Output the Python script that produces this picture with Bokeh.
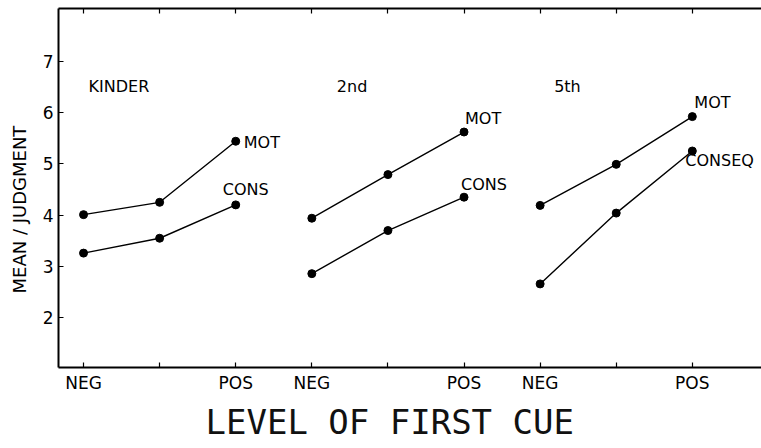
from bokeh.plotting import figure
from bokeh.models import FixedTicker, LinearAxis, Title, Range1d
from bokeh.core.properties import value
from bokeh.embed import file_html
from bokeh.resources import INLINE

# ---- data ----
groups = ["KINDER", "2nd", "5th"]
levels = ["NEG", "", "POS"]
mot = [[4.01, 4.25, 5.44], [3.94, 4.79, 5.62], [4.19, 4.99, 5.92]]
cons = [[3.26, 3.55, 4.20], [2.86, 3.70, 4.35], [2.66, 4.04, 5.25]]
mot_name = "MOT"
cons_names = ["CONS", "CONS", "CONSEQ"]
y_ticks = [2, 3, 4, 5, 6, 7]
x_title = "LEVEL OF FIRST CUE"
y_title = "MEAN / JUDGMENT"

FONT = "DejaVu Sans"
n = len(levels)

p = figure(width=761, height=448, output_backend="svg", toolbar_location=None,
           x_range=Range1d(-0.329, 8.909), y_range=Range1d(1.031, 8.027),
           min_border_left=58, min_border_right=0, min_border_top=8,
           min_border_bottom=81)
p.grid.visible = False
p.outline_line_color = None
p.background_fill_color = "white"
p.border_fill_color = "white"

all_x = [g * n + i for g in range(len(groups)) for i in range(n)]
labeled_x = [g * n + i for g in range(len(groups)) for i in range(n) if levels[i]]
unlabeled_x = [g * n + i for g in range(len(groups)) for i in range(n) if not levels[i]]
overrides = {g * n + i: levels[i] for g in range(len(groups)) for i in range(n) if levels[i]}

xa = p.xaxis[0]
xa.ticker = FixedTicker(ticks=labeled_x, minor_ticks=unlabeled_x)
xa.major_label_overrides = overrides
ya = p.yaxis[0]
ya.ticker = FixedTicker(ticks=y_ticks)
ya.minor_tick_line_color = None

for ax in (xa, ya):
    ax.axis_line_width = 2
    ax.axis_line_color = "black"
    ax.major_tick_in = 5
    ax.major_tick_out = 0
    ax.major_tick_line_width = 1.2
    ax.major_label_text_font = FONT
    ax.major_label_text_color = "black"
xa.minor_tick_in = 5
xa.minor_tick_out = 0
xa.minor_tick_line_width = 1.2
xa.minor_tick_line_color = "black"
xa.major_label_text_font_size = "17px"
xa.major_label_standoff = 5
ya.major_label_text_font_size = "17px"
ya.major_label_standoff = 5

top = LinearAxis(ticker=FixedTicker(ticks=[], minor_ticks=all_x), axis_line_width=2,
                 major_tick_in=0, major_tick_out=0,
                 minor_tick_in=5, minor_tick_out=0, minor_tick_line_width=1.2,
                 minor_tick_line_color="black", major_label_standoff=0)
p.add_layout(top, "above")

for g in range(len(groups)):
    xs = [g * n + i for i in range(n)]
    p.line(xs, mot[g], line_color="black", line_width=1.4)
    p.line(xs, cons[g], line_color="black", line_width=1.4)
    p.scatter(xs, mot[g], size=8, fill_color="black", line_color="black")
    p.scatter(xs, cons[g], size=8, fill_color="black", line_color="black")

# group labels
group_label_y = 6.51
group_dx = [5, 25, 14]
for g in range(len(groups)):
    p.text([g * n], [group_label_y], text=[groups[g]], x_offset=group_dx[g],
           text_align="left", text_baseline="middle",
           text_font=value(FONT), text_font_size="16px", text_color="black")

# series end labels
mot_off = [(8, 1), (1, -14), (2, -14)]
cons_off = [(-13, -15), (-3, -13), (-7, 9)]
for g in range(len(groups)):
    xe = g * n + n - 1
    p.text([xe], [mot[g][-1]], text=[mot_name], x_offset=mot_off[g][0], y_offset=mot_off[g][1],
           text_align="left", text_baseline="middle",
           text_font=value(FONT), text_font_size="16px", text_color="black")
    p.text([xe], [cons[g][-1]], text=[cons_names[g]], x_offset=cons_off[g][0], y_offset=cons_off[g][1],
           text_align="left", text_baseline="middle",
           text_font=value(FONT), text_font_size="16px", text_color="black")

xt = Title(text=x_title, align="left", offset=147, text_font="DejaVu Sans Mono",
           text_font_size="34px", text_font_style="normal", text_color="#111111",
           standoff=9)
p.add_layout(xt, "below")

yt = Title(text=y_title, align="left", offset=74, vertical_align="top",
           text_font=FONT, text_font_size="18px", text_font_style="normal",
           text_color="black", standoff=15)
p.add_layout(yt, "left")

open("out.html", "w").write(file_html(p, INLINE))
